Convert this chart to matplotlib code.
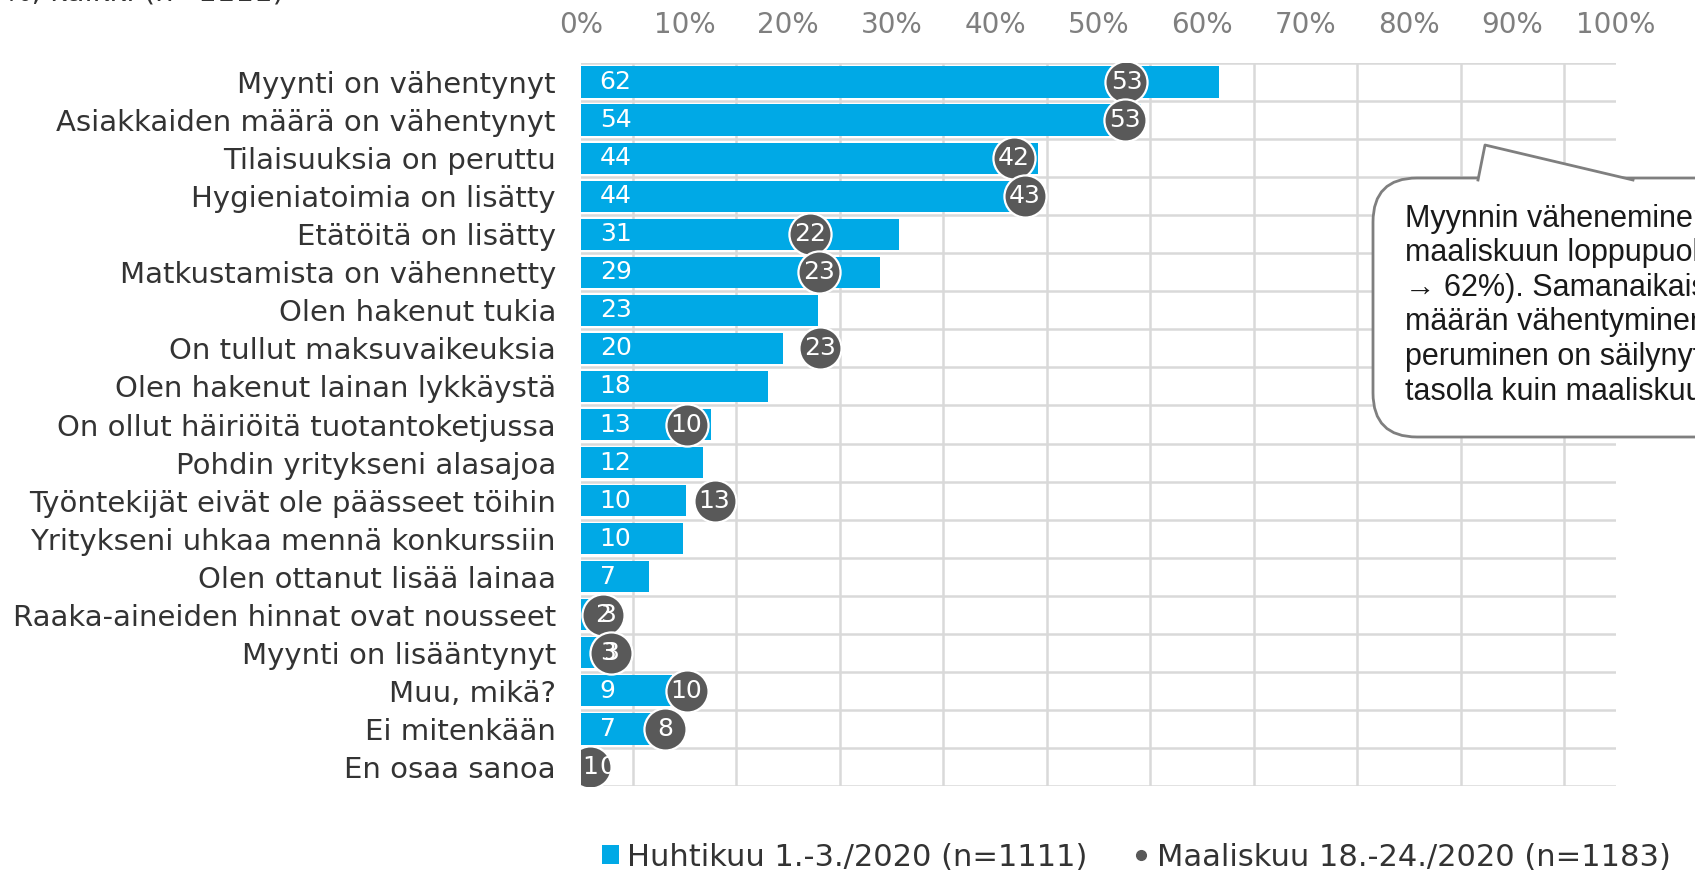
#!/usr/bin/env python3
"""Koronan vaikutukset yritykseen — vaakapalkit (huhtikuu) + pisteet (maaliskuu)."""
import matplotlib
matplotlib.use("Agg")
import matplotlib.pyplot as plt
from matplotlib.patches import FancyBboxPatch, Polygon, Patch
from matplotlib.lines import Line2D
import numpy as np

CATEGORIES = [
    "Myynti on vähentynyt",
    "Asiakkaiden määrä on vähentynyt",
    "Tilaisuuksia on peruttu",
    "Hygieniatoimia on lisätty",
    "Etätöitä on lisätty",
    "Matkustamista on vähennetty",
    "Olen hakenut tukia",
    "On tullut maksuvaikeuksia",
    "Olen hakenut lainan lykkäystä",
    "On ollut häiriöitä tuotantoketjussa",
    "Pohdin yritykseni alasajoa",
    "Työntekijät eivät ole päässeet töihin",
    "Yritykseni uhkaa mennä konkurssiin",
    "Olen ottanut lisää lainaa",
    "Raaka-aineiden hinnat ovat nousseet",
    "Myynti on lisääntynyt",
    "Muu, mikä?",
    "Ei mitenkään",
    "En osaa sanoa",
]
# Huhtikuu 1.-3./2020 (palkit)
APRIL = [61.6, 54.1, 44.2, 44.1, 30.7, 28.9, 22.9, 19.5, 18.1, 12.6, 11.8, 10.1, 9.9, 6.6, 2.6, 2.7, 8.8, 7.1, 0.2]
# Maaliskuu 18.-24./2020 (pisteet), None = ei kysytty
MARCH = [52.7, 52.6, 41.8, 42.9, 22.1, 23.0, None, 23.1, None, 10.2, None, 12.9, None, None, 2.1, 2.9, 10.2, 8.1, 0.9]

TICKS = list(range(0, 101, 10))
SERIES_LABELS = ["Huhtikuu 1.-3./2020 (n=1111)", "Maaliskuu 18.-24./2020 (n=1183)"]

CALLOUT = ("Myynnin väheneminen on lisääntynyt\n"
           "maaliskuun loppupuolelta (53%\n"
           "\u2192 62%). Samanaikaisesti asiakkaiden\n"
           "määrän vähentyminen ja tilaisuuksien\n"
           "peruminen on säilynyt samalla\n"
           "tasolla kuin maaliskuussa.")

BLUE = "#00A9E6"
DOT = "#595959"
GRID = "#D9D9D9"
TEXT = "#333333"

W, H = 1695, 872


def fx(px):
    return px / W


def fy(py):
    return 1 - py / H


def main():
    plt.rcParams["font.family"] = ["DejaVu Sans"]
    fig = plt.figure(figsize=(W / 100, H / 100), dpi=100)
    ax = fig.add_axes([fx(581), fy(786), fx(1616) - fx(581), fy(63) - fy(786)])

    y = np.arange(len(CATEGORIES))
    ax.barh(y, APRIL, height=0.82, color=BLUE, zorder=2)

    my = [yi for yi, v in zip(y, MARCH) if v is not None]
    mv = [v for v in MARCH if v is not None]
    ax.scatter(mv, my, s=920, color=DOT, edgecolor="white", linewidth=1.6, zorder=4)
    for yi, v in zip(my, mv):
        ax.text(v, yi, f"{v:.0f}", color="white", fontsize=18,
                va="center", ha="center", zorder=5)

    # palkkien arvot dotien päällä (kuten alkuperäisessä)
    for yi, v in zip(y, APRIL):
        ax.text(1.8, yi, f"{v:.0f}", color="white", fontsize=18,
                va="center", ha="left", zorder=6)

    ax.set_xlim(0, 100)
    ax.set_ylim(len(CATEGORIES) - 0.5, -0.5)
    ax.set_yticks(y)
    ax.set_yticklabels(CATEGORIES, fontsize=21, color=TEXT)
    ax.set_xticks(TICKS)
    ax.set_xticklabels([f"{t}%" for t in TICKS], fontsize=20, color="#7F7F7F")
    ax.xaxis.tick_top()
    ax.tick_params(axis="both", which="both", length=0)
    ax.tick_params(axis="x", pad=17)
    ax.tick_params(axis="y", pad=18)

    ax.set_xticks(np.arange(0, 101, 5), minor=True)
    ax.set_yticks(np.arange(-0.5, len(CATEGORIES) + 0.5, 1), minor=True)
    ax.grid(which="minor", color=GRID, linewidth=1.8)
    ax.grid(which="major", visible=False)
    ax.set_axisbelow(True)
    for s in ax.spines.values():
        s.set_visible(False)

    # leikkautunut otsikko ylhäällä
    fig.text(fx(4), fy(1), "%, kaikki (n=1111)", fontsize=21, color=TEXT,
             va="baseline", ha="left")

    # puhekupla
    box = FancyBboxPatch((fx(1373), fy(437)), fx(1800) - fx(1373), fy(178) - fy(437),
                         boxstyle="round,pad=0,rounding_size=0.026",
                         transform=fig.transFigure, facecolor="white",
                         edgecolor="#7F7F7F", linewidth=2, zorder=10,
                         mutation_aspect=W / H)
    fig.add_artist(box)
    tail = [(fx(1478), fy(180)), (fx(1485), fy(145)), (fx(1633), fy(180))]
    fig.add_artist(Polygon(tail, closed=True, transform=fig.transFigure,
                           facecolor="white", edgecolor="none", zorder=11))
    fig.add_artist(Line2D([p[0] for p in tail], [p[1] for p in tail],
                          transform=fig.transFigure, color="#7F7F7F",
                          linewidth=2, zorder=12))
    fig.text(fx(1405), fy(305), CALLOUT, fontsize=22, color="#1A1A1A", va="center",
             ha="left", linespacing=1.2, family=["Liberation Sans", "DejaVu Sans"],
             zorder=13)

    handles = [
        Patch(facecolor=BLUE, edgecolor="none"),
        Line2D([], [], marker="o", color=DOT, linestyle="none", markersize=7),
    ]
    fig.legend(handles, SERIES_LABELS, loc="center left", bbox_to_anchor=(fx(590), fy(857)),
               ncol=2, frameon=False, fontsize=22, handlelength=0.55, handleheight=0.55,
               handletextpad=0.25, columnspacing=1.5, labelcolor=TEXT, borderaxespad=0)

    fig.savefig("out.png", dpi=100)
    plt.close(fig)


if __name__ == "__main__":
    main()
